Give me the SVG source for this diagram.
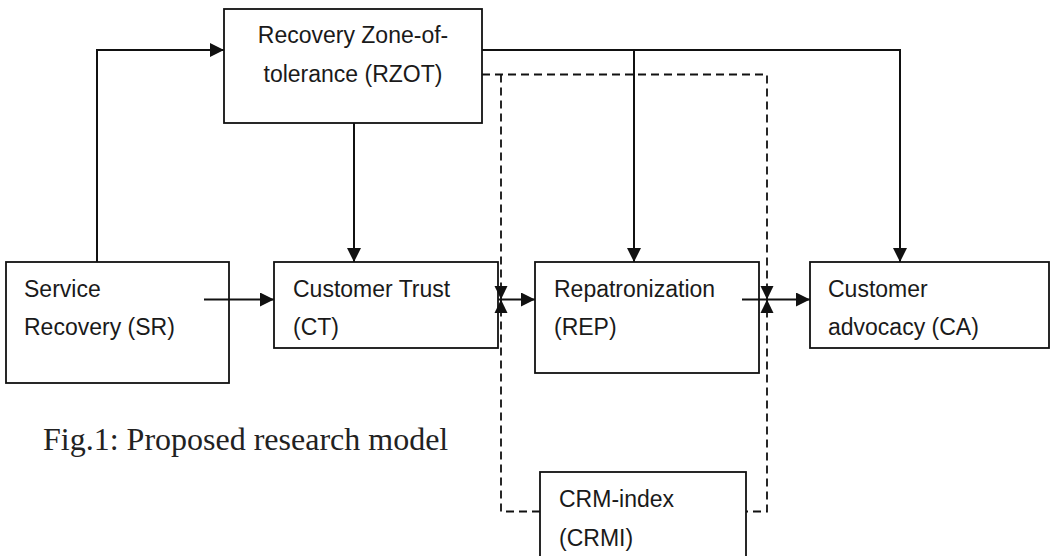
<svg xmlns="http://www.w3.org/2000/svg" width="1052" height="556" viewBox="0 0 1052 556">
  <defs>
    <style>
      .box { fill: #ffffff; stroke: #111111; stroke-width: 1.8; }
      .lbl { font-family: "Liberation Sans", Arial, sans-serif; font-size: 23px; fill: #1a1a1a; }
      .conn { fill: none; stroke: #111111; stroke-width: 2; }
      .dash { fill: none; stroke: #111111; stroke-width: 1.8; stroke-dasharray: 8 5; }
      .tri { fill: #111111; stroke: none; }
      .cap { font-family: "Liberation Serif", "Times New Roman", serif; font-size: 32px; fill: #222222; }
    </style>
    <marker id="arrow" markerUnits="userSpaceOnUse" markerWidth="15" markerHeight="15" refX="14" refY="7" orient="auto">
      <path d="M0,0 L14,7 L0,14 z" fill="#111111"/>
    </marker>
  </defs>
  <rect width="1052" height="556" fill="#ffffff"/>

  <g id="node-rzot">
    <rect class="box" x="224" y="9" width="258" height="114"/>
    <text class="lbl" x="353" y="43" text-anchor="middle">Recovery Zone-of-</text>
    <text class="lbl" x="353" y="82" text-anchor="middle">tolerance (RZOT)</text>
  </g>

  <g id="node-sr">
    <rect class="box" x="6" y="262" width="223" height="121"/>
    <text class="lbl" x="24" y="297">Service</text>
    <text class="lbl" x="24" y="335">Recovery (SR)</text>
  </g>

  <g id="node-ct">
    <rect class="box" x="274" y="262" width="224" height="86"/>
    <text class="lbl" x="293" y="297">Customer Trust</text>
    <text class="lbl" x="293" y="335">(CT)</text>
  </g>

  <g id="node-rep">
    <rect class="box" x="535" y="262" width="224" height="111"/>
    <text class="lbl" x="554" y="297">Repatronization</text>
    <text class="lbl" x="554" y="335">(REP)</text>
  </g>

  <g id="node-ca">
    <rect class="box" x="810" y="262" width="239" height="86"/>
    <text class="lbl" x="828" y="297">Customer</text>
    <text class="lbl" x="828" y="335">advocacy (CA)</text>
  </g>

  <g id="node-crmi">
    <rect class="box" x="540" y="472" width="206" height="110"/>
    <text class="lbl" x="559" y="507">CRM-index</text>
    <text class="lbl" x="559" y="546">(CRMI)</text>
  </g>

  <g id="caption">
    <text class="cap" x="43" y="450">Fig.1: Proposed research model</text>
  </g>

  <g id="connectors">
    <path class="conn" d="M97,262 V50 H224" marker-end="url(#arrow)"/>
    <path class="conn" d="M354,123 V262" marker-end="url(#arrow)"/>
    <path class="conn" d="M482,50 H900 V262" marker-end="url(#arrow)"/>
    <path class="conn" d="M634,50 V262" marker-end="url(#arrow)"/>
    <path class="conn" d="M204,299.5 H274" marker-end="url(#arrow)"/>
    <path class="conn" d="M498,299.5 H535" marker-end="url(#arrow)"/>
    <path class="conn" d="M742,299.5 H810" marker-end="url(#arrow)"/>
    <path class="dash" d="M482,74.5 H767 V511.5 H746"/>
    <path class="dash" d="M501,74.5 V511.5 H540"/>
    <polygon class="tri" points="494.5,286 507.5,286 501,299.5"/>
    <polygon class="tri" points="494.5,313 507.5,313 501,299.5"/>
    <polygon class="tri" points="760.5,286 773.5,286 767,299.5"/>
    <polygon class="tri" points="760.5,313 773.5,313 767,299.5"/>
  </g>
</svg>
